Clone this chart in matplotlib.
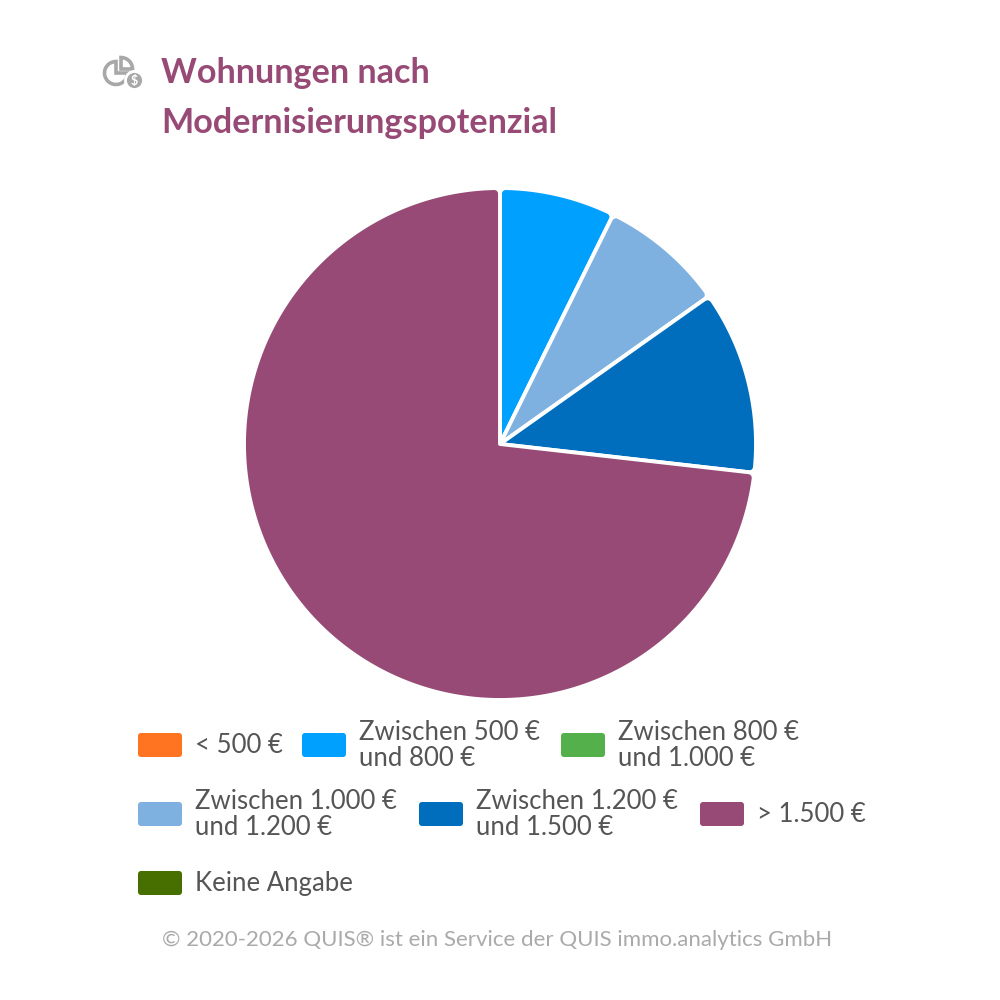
import numpy as np
import matplotlib.pyplot as plt
from matplotlib.patches import FancyBboxPatch, Wedge, Circle, Polygon

# data
labels = ['< 500 €', 'Zwischen 500 €\nund 800 €', 'Zwischen 800 €\nund 1.000 €',
          'Zwischen 1.000 €\nund 1.200 €', 'Zwischen 1.200 €\nund 1.500 €',
          '> 1.500 €', 'Keine Angabe']
shares = [0.0, 7.3, 0.0, 7.9, 11.6, 73.2, 0.0]
colors = ['#FF7420', '#00A0FF', '#54B04A', '#7FB1E0', '#006EBD', '#974A75', '#476F00']

title_lines = ['Wohnungen nach', 'Modernisierungspotenzial']
footer = '© 2020-2026 QUIS® ist ein Service der QUIS immo.analytics GmbH'

plt.rcParams['font.family'] = ['Lato', 'DejaVu Sans']


def rounded_wedge(t1, t2, R=1.0, rc=0.022):
    """Wedge outline (degrees) with rounded outer corners."""
    a1, a2 = np.radians(t1), np.radians(t2)
    d = np.arcsin(rc / (R - rc))
    if a2 - a1 < 2.2 * d:
        d = (a2 - a1) / 2.2
    pts = [(0.0, 0.0)]
    # fillet at a1
    c1 = (R - rc) * np.array([np.cos(a1 + d), np.sin(a1 + d)])
    for phi in np.linspace(a1 - np.pi / 2, a1 + d, 12):
        pts.append(tuple(c1 + rc * np.array([np.cos(phi), np.sin(phi)])))
    for phi in np.linspace(a1 + d, a2 - d, 200):
        pts.append((R * np.cos(phi), R * np.sin(phi)))
    c2 = (R - rc) * np.array([np.cos(a2 - d), np.sin(a2 - d)])
    for phi in np.linspace(a2 - d, a2 + np.pi / 2, 12):
        pts.append(tuple(c2 + rc * np.array([np.cos(phi), np.sin(phi)])))
    return np.array(pts)


fig = plt.figure(figsize=(10, 10), dpi=100)
fig.patch.set_facecolor('white')

# pie, center (500, 444) px, radius 256 px
cx, cy, r = 500, 444, 256
lim = 1.02
h = r * lim
ax = fig.add_axes([(cx - h) / 1000, 1 - (cy + h) / 1000, 2 * h / 1000, 2 * h / 1000])
wedges, _ = ax.pie(shares, colors=colors, startangle=90, counterclock=False, radius=1)
for w, col in zip(wedges, colors):
    w.set_visible(False)
    if w.theta2 - w.theta1 <= 0:
        continue
    ax.add_patch(Polygon(rounded_wedge(w.theta1, w.theta2), closed=True,
                         facecolor=col, edgecolor='white', linewidth=2.8,
                         joinstyle='round'))
ax.set_xlim(-lim, lim)
ax.set_ylim(-lim, lim)
ax.set_aspect('equal')
ax.axis('off')

# overlay in pixel coords for title, icon, legend
ov = fig.add_axes([0, 0, 1, 1], zorder=5)
ov.set_xlim(0, 1000)
ov.set_ylim(1000, 0)
ov.axis('off')
ov.patch.set_alpha(0)

# icon (y axis is flipped here, so angles run clockwise on screen)
grey = '#A8A8A8'
ov.add_patch(Wedge((116, 73), 11.5, 0, 270, facecolor='none', edgecolor=grey, lw=2.6))
ov.add_patch(Wedge((121, 69), 11.5, 270, 360, facecolor='none', edgecolor=grey, lw=2.6))
ov.add_patch(Circle((134.5, 80.5), 9, facecolor=grey, edgecolor='white', lw=2))
ov.text(134.5, 81, '$', color='white', fontsize=9, fontweight='bold',
        ha='center', va='center')

for i, line in enumerate(title_lines):
    ov.text(161, 83 + 50 * i, line, color='#974A75', fontsize=24.6,
            fontweight='bold', ha='left', va='baseline')

# legend (flow layout)
slots = [(138, 745), (302, 745), (561, 745),
         (138, 814), (419, 814), (700, 814),
         (138, 883)]
for (sx, sy), lab, col in zip(slots, labels, colors):
    ov.add_patch(FancyBboxPatch((sx + 3, sy - 9), 38, 18,
                                boxstyle='round,pad=3', facecolor=col,
                                edgecolor='none'))
    parts = lab.split('\n')
    if len(parts) == 1:
        bases = [sy + 8]
    else:
        bases = [sy - 5, sy + 21]
    for part, b in zip(parts, bases):
        ov.text(sx + 57, b, part, color='#555555', fontsize=18.5,
                ha='left', va='baseline')

ov.text(497, 946, footer, color='#AAAAAA', fontsize=16,
        ha='center', va='baseline')

fig.savefig('out.png', dpi=100, facecolor='white')
